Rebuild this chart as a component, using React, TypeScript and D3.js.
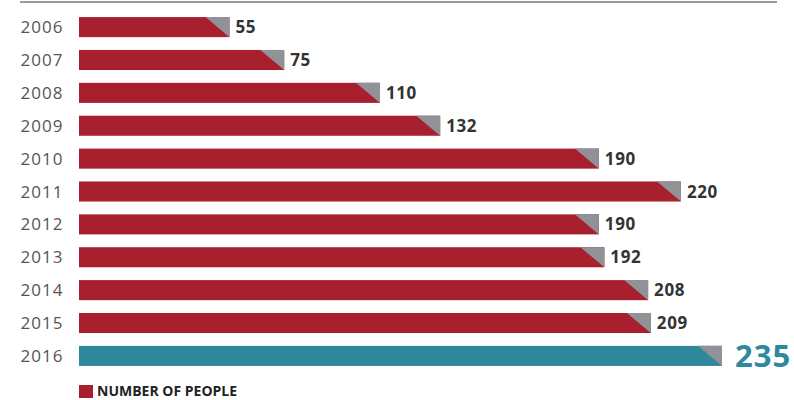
import React from "react";
import * as d3 from "d3";

const years = ["2006", "2007", "2008", "2009", "2010", "2011", "2012", "2013", "2014", "2015", "2016"];
const people = [55, 75, 110, 132, 190, 220, 190, 192, 208, 209, 235];
const legendLabel = "NUMBER OF PEOPLE";

const W = 794;
const H = 400;
const RED = "#A81F2E";
const TEAL = "#2E899D";
const GREY = "#909297";

export default function App() {
  const x = d3.scaleLinear().domain([0, 235]).range([79, 722]);
  const y = d3.scaleBand().domain(years).range([10.5, 372.5]).paddingInner(0.39).paddingOuter(0.2);
  const bh = y.bandwidth();
  const tri = 24;
  const font = "'Open Sans', sans-serif";
  return (
    <svg width={W} height={H} style={{ position: "absolute", left: 0, top: 0, background: "#fff" }}>
      <line x1={20} x2={777} y1={2} y2={2} stroke="#9a9a9a" strokeWidth={2} />
      {years.map((yr, i) => {
        const v = people[i];
        const top = y(yr)!;
        const x0 = x(0);
        const x1 = x(v);
        const last = i === years.length - 1;
        return (
          <g key={yr}>
            <text x={42} y={top + bh / 2} dy="0.36em" textAnchor="middle" fontFamily={font} fontSize={17} letterSpacing={1} fill="#555">
              {yr}
            </text>
            <rect x={x0} y={top} width={x1 - x0} height={bh} fill={last ? TEAL : RED} />
            <path d={`M${x1 - tri},${top}L${x1},${top}L${x1},${top + bh}Z`} fill={GREY} />
            <text
              x={x1 + (last ? 13 : 6)}
              y={top + bh / 2}
              dy="0.36em"
              fontFamily={font}
              fontWeight={700}
              fontSize={last ? 31 : 17}
              letterSpacing={last ? 1 : 0.6}
              fill={last ? TEAL : "#333"}
            >
              {v}
            </text>
          </g>
        );
      })}
      <rect x={79} y={385} width={14} height={13} fill={RED} />
      <text x={97} y={391} dy="0.36em" fontFamily={font} fontWeight={700} fontSize={14} fill="#222">
        {legendLabel}
      </text>
    </svg>
  );
}
